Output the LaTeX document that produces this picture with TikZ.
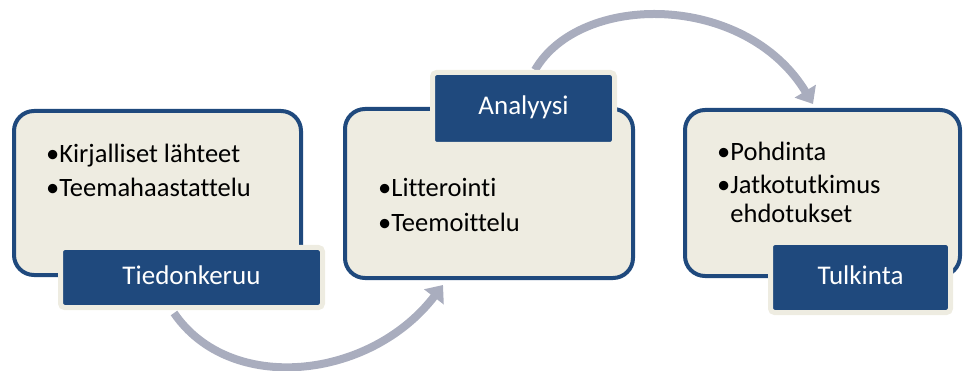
\documentclass[tikz,border=0pt]{standalone}
\usepackage{fontspec}
\setmainfont{Carlito}[Ligatures=NoCommon]
\usetikzlibrary{arrows.meta}
\definecolor{darkblue}{HTML}{1F497D}
\definecolor{cream}{HTML}{EEECE1}
\definecolor{flowgray}{RGB}{169,173,190}

\begin{document}
\begin{tikzpicture}[
    x=1pt, y=-1pt,
    stage/.style={rectangle, rounded corners=20pt, draw=darkblue, line width=4pt, fill=cream, inner sep=0pt},
    tag/.style={rectangle, rounded corners=4pt, draw=cream, line width=5pt, fill=darkblue, text=white, inner sep=0pt, text height=18pt, text depth=5pt, font=\fontsize{27}{32}\selectfont},
    item/.style={anchor=base west, inner sep=0pt, align=left, font=\fontsize{26.5}{29}\selectfont},
    flow/.style={draw=flowgray, line width=8pt, -{Triangle[width=24pt,length=15pt]}}
]
\useasboundingbox (0,0) rectangle (963,371);

% Arrows behind the boxes
\coordinate (lowstart) at (174,313);
\coordinate (lowend) at (443,285);
\coordinate (highstart) at (535,70);
\coordinate (highend) at (813,104);
\draw[flow] (lowstart) .. controls (230,395) and (370,380) .. (lowend);
\draw[flow] (highstart) .. controls (580,-8) and (745,-8) .. (highend);

% Tiedonkeruu (list anchored at its last line)
\node[stage, minimum width=287pt, minimum height=164pt] (collect) at (157.5,193) {};
\node[tag, minimum width=262pt, minimum height=60pt] (collecttag) at (191.5,277.5) {Tiedonkeruu};
\node[item] (collectlist) at (46,197) {•Kirjalliset lähteet\\[5pt]•Teemahaastattelu};

% Analyysi
\node[stage, minimum width=288pt, minimum height=169pt] (analysis) at (489,193.5) {};
\node[tag, minimum width=182pt, minimum height=72pt] (analysistag) at (523.5,108.5) {Analyysi};
\node[item] (analysislist) at (378,232) {•Litterointi\\[6pt]•Teemoittelu};

% Tulkinta
\node[stage, minimum width=275pt, minimum height=166pt] (interp) at (822.5,193) {};
\node[tag, minimum width=180pt, minimum height=70pt] (interptag) at (860.5,277.5) {Tulkinta};
\node[item] (interplist) at (717,223) {•Pohdinta\\[4pt]•Jatkotutkimus\\\hphantom{•}ehdotukset};

\end{tikzpicture}
\end{document}
